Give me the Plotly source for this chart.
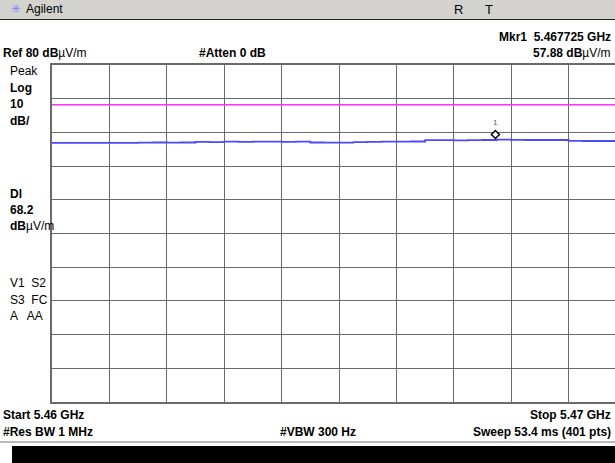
import plotly.graph_objects as go

# ---- data ----
freq_start_ghz = 5.46
freq_stop_ghz = 5.47
ref_level = 80
db_per_div = 10
display_line = 68.2
marker_freq = 5.467725
marker_level = 57.88

trace_freq = [5.46 + i * 0.00025 for i in range(41)]  # 41 sample positions across the span
trace_level = [56.9, 56.9, 56.9, 56.9, 56.9, 56.9, 56.95, 57.0, 56.95, 57.0,
               57.2, 57.1, 57.25, 57.2, 57.25, 57.25, 57.2, 57.25, 57.0, 56.95,
               56.95, 57.1, 57.2, 57.25, 57.25, 57.3, 57.7, 57.7, 57.65, 57.7,
               57.75, 57.85, 57.8, 57.75, 57.75, 57.75, 57.5, 57.45, 57.45, 57.45,
               57.45]

W, H = 615, 463
# plot area in pixels (right edge is cut off by the screenshot at 615)
PL, PR_FULL, PT, PB = 52, 626, 65, 402
x_visible_stop = freq_start_ghz + (W - PL) / (PR_FULL - PL) * (freq_stop_ghz - freq_start_ghz)

fig = go.Figure()

fig.add_trace(go.Scatter(x=[freq_start_ghz, x_visible_stop], y=[display_line, display_line],
                         mode="lines", line=dict(color="#ff30ff", width=1.5),
                         hoverinfo="skip", showlegend=False))
fig.add_trace(go.Scatter(x=trace_freq, y=trace_level, mode="lines",
                         line=dict(color="#4a4aff", width=1.8, shape="hv"),
                         showlegend=False))

# marker diamond drawn just above the marker point
fig.add_shape(type="path", xref="x", yref="y", xsizemode="pixel", ysizemode="pixel",
              xanchor=marker_freq, yanchor=marker_level,
              path="M 0,1 L 4,5 L 0,9 L -4,5 Z",
              line=dict(color="black", width=1.5), fillcolor="white")

fig.add_annotation(x=marker_freq, y=marker_level, xref="x", yref="y", text="1",
                   showarrow=False, yshift=17, font=dict(size=8, color="#555555"))

fig.update_xaxes(range=[freq_start_ghz, x_visible_stop], domain=[PL / W, 1],
                 dtick=0.001, tick0=freq_start_ghz, showgrid=True, gridcolor="#6a6a6a",
                 gridwidth=1, showticklabels=False, ticks="", zeroline=False,
                 showline=True, linecolor="#6a6a6a", linewidth=2, mirror=True)
fig.update_yaxes(range=[ref_level - 10 * db_per_div, ref_level],
                 domain=[1 - PB / H, 1 - PT / H],
                 dtick=db_per_div, showgrid=True, gridcolor="#6a6a6a", gridwidth=1,
                 showticklabels=False, ticks="", zeroline=False,
                 showline=True, linecolor="#6a6a6a", linewidth=2, mirror=False)

# header bar
fig.add_shape(type="rect", xref="paper", yref="paper", x0=0, x1=1,
              y0=1 - 19 / H, y1=1, fillcolor="#d4d2cf", line=dict(width=0), layer="below")
fig.add_shape(type="line", xref="paper", yref="paper", x0=0, x1=1,
              y0=1 - 19.5 / H, y1=1 - 19.5 / H, line=dict(color="#222222", width=1.2))

# bottom bar
fig.add_shape(type="line", xref="paper", yref="paper", x0=0, x1=1,
              y0=1 - 442 / H, y1=1 - 442 / H, line=dict(color="#777777", width=1.2))
fig.add_shape(type="rect", xref="paper", yref="paper", x0=12 / W, x1=1,
              y0=0, y1=1 - 446 / H, fillcolor="black", line=dict(width=0))

FONT = "Liberation Sans, Arial, sans-serif"


def txt(x, y, s, anchor="left", size=12, color="black"):
    fig.add_annotation(x=x / W, y=1 - y / H, xref="paper", yref="paper", text=s,
                       showarrow=False, xanchor=anchor, yanchor="middle",
                       font=dict(family=FONT, size=size, color=color))


txt(9, 9, "✳", size=12, color="#7f86ff")
txt(24, 9, "Agilent", size=12)
txt(452, 9, "R", size=13)
txt(483, 9, "T", size=13)

txt(613, 37, "<b>Mkr1  5.467725 GHz</b>", anchor="right")
txt(1, 53, "<b>Ref 80 dB</b>µV/m")
txt(197, 53, "<b>#Atten 0 dB</b>")
txt(613, 53, "<b>57.88 dB</b>µV/m", anchor="right")

txt(8, 71, "Peak")
txt(8, 88, "<b>Log</b>")
txt(8, 104, "<b>10</b>")
txt(8, 121, "<b>dB/</b>")
txt(8, 194, "<b>Dl</b>")
txt(8, 210, "<b>68.2</b>")
txt(8, 226, "<b>dB</b>µV/m")
txt(8, 283, "V1  S2")
txt(8, 300, "S3  FC")
txt(8, 316, "A   AA")

txt(1, 415, "<b>Start 5.46 GHz</b>")
txt(613, 415, "<b>Stop 5.47 GHz</b>", anchor="right")
txt(1, 432, "<b>#Res BW 1 MHz</b>")
txt(278, 432, "<b>#VBW 300 Hz</b>")
txt(613, 432, "<b>Sweep 53.4 ms (401 pts)</b>", anchor="right")

fig.update_layout(width=W, height=H, margin=dict(l=0, r=0, t=0, b=0),
                  paper_bgcolor="white", plot_bgcolor="white",
                  font=dict(family=FONT, size=12, color="black"), showlegend=False)

fig.write_html("out.html", config={"displayModeBar": False},
               post_script="document.body.style.margin='0';document.body.style.overflow='hidden';")
